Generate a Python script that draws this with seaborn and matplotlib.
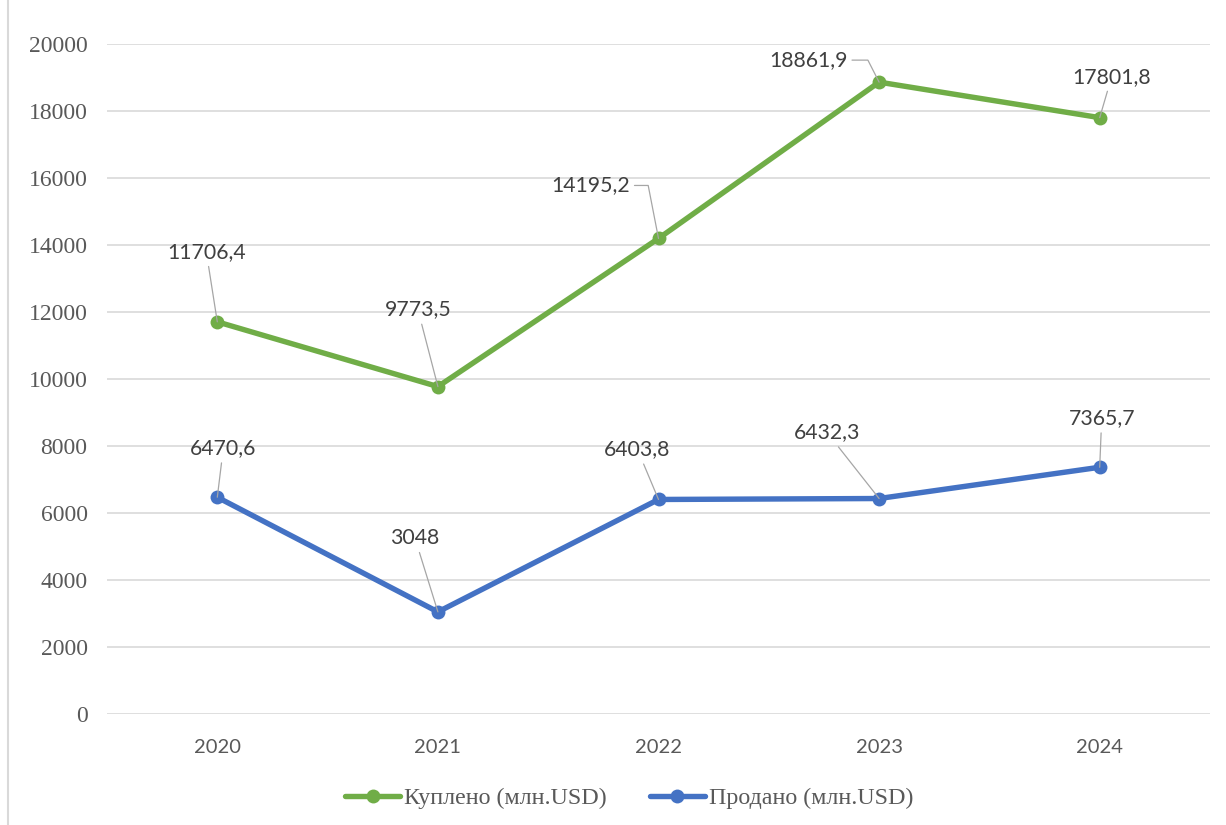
import matplotlib
matplotlib.use('Agg')
import matplotlib.pyplot as plt
import seaborn as sns
import pandas as pd
from matplotlib.lines import Line2D

# ---- data ----
years = ['2020', '2021', '2022', '2023', '2024']
bought = [11706.4, 9773.5, 14195.2, 18861.9, 17801.8]
sold = [6470.6, 3048, 6403.8, 6432.3, 7365.7]
series_names = ['Куплено (млн.USD)', 'Продано (млн.USD)']
y_ticks = list(range(0, 20001, 2000))

# ---- style ----
colors = ['#70AD47', '#4472C4']
# label offsets in pixels (dx right, dy down) relative to the point
green_offsets = [(-11, -70), (-20, -77), (-68, -53), (-71, -22), (12, -41)]
blue_offsets = [(6, -49), (-23, -74), (-21, -50), (-52, -66), (2, -49)]
# elbow leaders (index -> angleB) for green series
green_elbows = {2: 101, 3: 117}

sns.set_theme(style='white')
plt.rcParams['font.family'] = ['Lato', 'DejaVu Sans']

W, H = 1226, 825
fig = plt.figure(figsize=(W / 100, H / 100), dpi=100)
ax = fig.add_axes([107 / W, 1 - 714 / H, (1210 - 107) / W, 670 / H])

df = pd.DataFrame({
    'year': years * 2,
    'value': bought + sold,
    'series': [series_names[0]] * len(years) + [series_names[1]] * len(years),
})
sns.lineplot(data=df, x='year', y='value', hue='series', palette=colors,
             marker='o', markersize=10, markeredgewidth=0, linewidth=3.9,
             ax=ax, legend=False, sort=False)

ax.set_xlim(-0.5, len(years) - 0.5)
ax.set_ylim(0, 20000)
ax.set_yticks(y_ticks)
ax.set_yticklabels([str(t) for t in y_ticks], family='Liberation Serif',
                   fontsize=17, color='#595959')
ax.set_xticks(range(len(years)))
ax.set_xticklabels(years, fontsize=14.5, color='#595959')
ax.tick_params(axis='y', length=0, pad=14)
ax.tick_params(axis='x', length=0, pad=18)
ax.set_xlabel('')
ax.set_ylabel('')
ax.yaxis.grid(True, color='#D9D9D9', linewidth=1.2)
ax.xaxis.grid(False)
ax.set_axisbelow(True)
for s in ax.spines.values():
    s.set_visible(False)


def fmt(v):
    return str(int(v)) if float(v).is_integer() else f"{v:.1f}".replace('.', ',')


def annotate(vals, offsets, elbows):
    for i, (v, (dx, dy)) in enumerate(zip(vals, offsets)):
        ap = dict(arrowstyle='-', color='#A6A6A6', lw=0.9, shrinkA=1, shrinkB=0)
        if i in elbows:
            ap['relpos'] = (1, 0.5)
            ap['connectionstyle'] = f'angle,angleA=0,angleB={elbows[i]},rad=0'
        ax.annotate(fmt(v), xy=(i, v), xytext=(dx * 0.72, -dy * 0.72),
                    textcoords='offset points', ha='center', va='center',
                    fontsize=15.3, color='#404040', arrowprops=ap, zorder=5)


annotate(bought, green_offsets, green_elbows)
annotate(sold, blue_offsets, {})

handles = [Line2D([], [], color=c, lw=3.9, marker='o', markersize=10,
                  markeredgewidth=0) for c in colors]
leg = fig.legend(handles, series_names, loc='center',
                 bbox_to_anchor=(629 / W, 1 - 798 / H), ncol=2, frameon=False,
                 prop={'family': 'Liberation Serif', 'size': 17.3},
                 handlelength=2.3, handletextpad=0.15, columnspacing=1.8)
for t in leg.get_texts():
    t.set_color('#595959')

fig.add_artist(Line2D([8 / W, 8 / W], [0, 1], transform=fig.transFigure,
                      color='#D9D9D9', lw=1.5))

fig.savefig('out.png', dpi=100)
